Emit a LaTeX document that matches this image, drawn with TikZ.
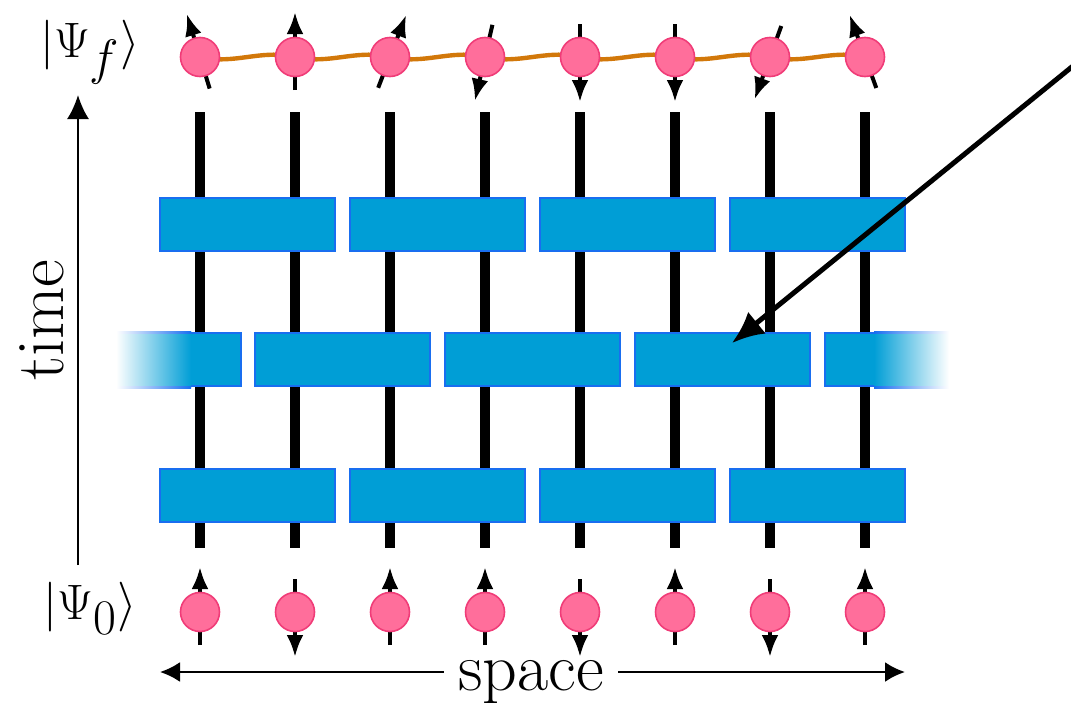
\documentclass[tikz,border=0pt]{standalone}
\usetikzlibrary{arrows.meta,calc}
\definecolor{gatefill}{RGB}{0,158,214}
\definecolor{gateborder}{RGB}{25,110,240}
\definecolor{spinfill}{RGB}{255,110,155}
\definecolor{spinborder}{RGB}{240,60,120}
\definecolor{bondcol}{RGB}{210,120,10}
\begin{document}
\begin{tikzpicture}[x=0.5pt,y=-0.5pt,
  wire/.style={line width=5pt,black},
  gate/.style={draw=gateborder,fill=gatefill,line width=1pt,minimum width=87.5pt,minimum height=26.5pt,inner sep=0pt},
  gatepart/.style={gate,minimum width=25.5pt},
  spin/.style={circle,draw=spinborder,fill=spinfill,line width=0.8pt,minimum size=19.5pt,inner sep=0pt},
  spinarrow/.style={line width=2pt,-{Latex[length=11pt,width=8.5pt]}},
  bond/.style={draw=bondcol,line width=2.2pt},
  axisarrow/.style={line width=1.2pt,-{Latex[length=10pt,width=10pt]}},
  bigarrow/.style={line width=2.5pt,-{Latex[length=16pt,width=14pt]}},
  lbl/.style={font=\fontsize{34}{40}\selectfont,inner sep=0pt}]
\useasboundingbox (0,0) rectangle (1071,702);

% wires
\foreach \x in {200,295,390,485,580,675,770,865}
  \draw[wire] (\x,112) -- (\x,548);

% gates, top and bottom rows
\foreach \i/\x in {1/247.5,2/437.5,3/627.5,4/817.5} {
  \node[gate] (gt\i) at (\x,224.5) {};
  \node[gate] (gb\i) at (\x,495.5) {};
}
% middle row
\foreach \i/\x in {1/342.5,2/532.5,3/722.5}
  \node[gate] (gm\i) at (\x,359.5) {};
% partial gates with faded ends
\node[gatepart] (gmL) at (215.5,359.5) {};
\node[gatepart] (gmR) at (850,359.5) {};
\shade[left color=white,right color=gatefill] (116,331.5) rectangle (191,387.5);
\shade[left color=white,right color=gateborder] (116,331) rectangle (191,333);
\shade[left color=white,right color=gateborder] (116,386) rectangle (191,388);
\shade[left color=gatefill,right color=white] (874,331.5) rectangle (949,387.5);
\shade[left color=gateborder,right color=white] (874,331) rectangle (949,333);
\shade[left color=gateborder,right color=white] (874,386) rectangle (949,388);

% top spins
\foreach \i/\x in {1/200,2/295,3/390,4/485,5/580,6/675,7/770,8/865}
  \coordinate (ct\i) at (\x,57);
\foreach \i [evaluate=\i as \j using int(\i+1)] in {1,...,7}
  \draw[bond] (ct\i) .. controls +(35,8) and +(-35,-8) .. (ct\j);
\foreach \i/\a in {1/253,2/270,3/291,4/103,5/90,6/90,7/110,8/250}
  \draw[spinarrow] ($(ct\i)+(\a+180:33)$) -- ($(ct\i)+(\a:45)$);
\foreach \i in {1,...,8}
  \node[spin] (t\i) at (ct\i) {};

% bottom spins
\foreach \i/\x in {1/200,2/295,3/390,4/485,5/580,6/675,7/770,8/865}
  \coordinate (cb\i) at (\x,612);
\foreach \i/\a in {1/270,2/90,3/270,4/270,5/90,6/270,7/90,8/270}
  \draw[spinarrow] ($(cb\i)+(\a+180:33)$) -- ($(cb\i)+(\a:45)$);
\foreach \i in {1,...,8}
  \node[spin] (b\i) at (cb\i) {};

% labels
\node[lbl] (psif) at (90,52) {$|\Psi_f\rangle$};
\node[lbl] (psi0) at (90,608) {$|\Psi_0\rangle$};
\node[lbl,rotate=90] (time) at (42,320) {time};
\node[lbl,inner xsep=7pt] (space) at (531,682) {space};

% axes
\coordinate (tB) at (78,565);
\coordinate (tT) at (78,95);
\draw[axisarrow,-{Latex[length=12pt,width=11pt]}] (tB) -- (tT);
\coordinate (sL) at (160,672);
\coordinate (sR) at (905,672);
\draw[axisarrow] (sL -| space.west) -- (sL);
\draw[axisarrow] (sR -| space.east) -- (sR);

% pointer
\coordinate (pS) at (1073,66);
\coordinate (pT) at (732,343);
\draw[bigarrow] (pS) -- (pT);
\end{tikzpicture}
\end{document}
